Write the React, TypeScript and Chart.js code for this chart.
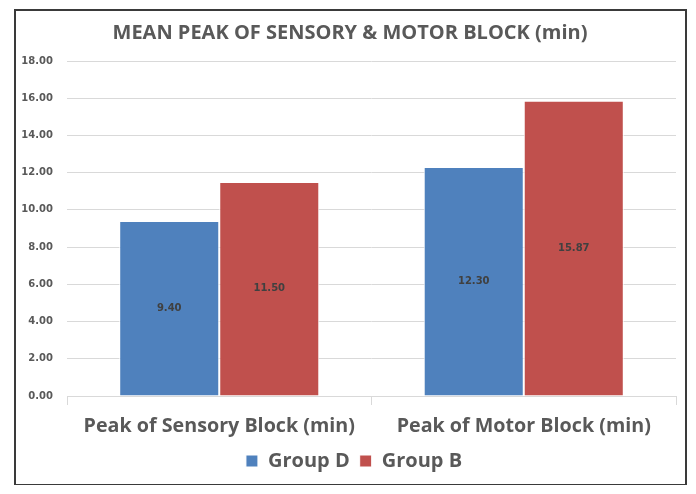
import { useEffect, useRef } from "react";
import { Chart, registerables } from "chart.js";

Chart.register(...registerables);

const categories = ["Peak of Sensory Block (min)", "Peak of Motor Block (min)"];
const seriesNames = ["Group D", "Group B"];
const groupD = [9.4, 12.3];
const groupB = [11.5, 15.87];
const yMin = 0;
const yMax = 18;
const yStep = 2;
const titleText = "MEAN PEAK OF SENSORY & MOTOR BLOCK (min)";

const FONT = "'Open Sans', Lato, sans-serif";
const NUM_FONT = "'DejaVu Sans', sans-serif";

const valueLabels = {
  id: "valueLabels",
  afterDatasetsDraw(chart: any) {
    const ctx = chart.ctx;
    ctx.save();
    ctx.font = `bold 10px ${NUM_FONT}`;
    ctx.fillStyle = "#404040";
    ctx.textAlign = "center";
    ctx.textBaseline = "middle";
    chart.data.datasets.forEach((ds: any, i: number) => {
      const meta = chart.getDatasetMeta(i);
      meta.data.forEach((bar: any, j: number) => {
        const p = bar.getProps(["x", "y", "base"], true);
        ctx.fillText(Number(ds.data[j]).toFixed(2), p.x, (p.y + p.base) / 2);
      });
    });
    ctx.restore();
  },
};

const boxShift = {
  id: "boxShift",
  afterLayout(chart: any) {
    if (chart.legend) {
      chart.legend.left += 16;
    }
    if (chart.titleBlock) {
      chart.titleBlock.left += 8;
    }
  },
};

export default function App() {
  const ref = useRef<HTMLCanvasElement | null>(null);

  useEffect(() => {
    if (!ref.current) return;
    const chart = new Chart(ref.current, {
      type: "bar",
      data: {
        labels: categories,
        datasets: [
          {
            label: seriesNames[0],
            data: groupD,
            backgroundColor: "#4F81BD",
            borderColor: "#ffffff",
            borderWidth: 1,
            borderSkipped: "bottom",
          },
          {
            label: seriesNames[1],
            data: groupB,
            backgroundColor: "#C0504D",
            borderColor: "#ffffff",
            borderWidth: 1,
            borderSkipped: "bottom",
          },
        ],
      },
      options: {
        responsive: false,
        animation: false,
        devicePixelRatio: 1,
        layout: { padding: { left: 0, right: 9, top: 0, bottom: 3 } },
        datasets: {
          bar: { categoryPercentage: 0.657, barPercentage: 1 },
        },
        scales: {
          x: {
            grid: {
              display: true,
              drawOnChartArea: false,
              drawTicks: true,
              tickLength: 9,
              color: "#d9d9d9",
              offset: true,
            },
            border: { display: true, color: "#d9d9d9" },
            ticks: {
              color: "#595959",
              font: { family: FONT, size: 19.7, weight: "bold" },
              padding: 10,
            },
            afterFit: (s: any) => {
              s.height = 45;
            },
          },
          y: {
            min: yMin,
            max: yMax,
            grid: { color: "#d9d9d9", drawTicks: false },
            border: { display: false },
            ticks: {
              stepSize: yStep,
              color: "#595959",
              font: { family: NUM_FONT, size: 10, weight: "bold" },
              padding: 14,
              callback: (v: any) => Number(v).toFixed(2),
            },
            afterFit: (s: any) => {
              s.width = 51;
            },
          },
        },
        plugins: {
          title: {
            display: true,
            text: titleText,
            color: "#595959",
            font: { family: FONT, size: 20, weight: "bold" },
            padding: { top: 10, bottom: 16 },
          },
          legend: {
            position: "bottom",
            labels: {
              boxWidth: 12,
              boxHeight: 12,
              color: "#595959",
              font: { family: FONT, size: 20, weight: "bold" },
              padding: 10,
            },
          },
          tooltip: { enabled: false },
        },
      },
      plugins: [valueLabels, boxShift],
    });
    return () => chart.destroy();
  }, []);

  return (
    <div
      style={{
        position: "relative",
        left: 6,
        top: 1,
        width: 673,
        height: 477,
        border: "2px solid #3a3a3a",
        boxSizing: "border-box",
        background: "#fff",
      }}
    >
      <canvas ref={ref} width={669} height={473} style={{ display: "block" }} />
    </div>
  );
}
